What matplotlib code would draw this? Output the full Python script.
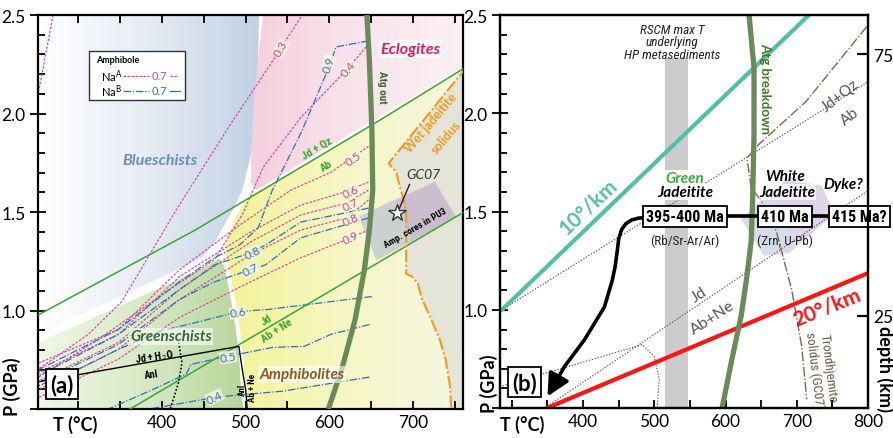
import numpy as np
import matplotlib
matplotlib.use("Agg")
import matplotlib.pyplot as plt
from matplotlib import font_manager
from matplotlib.patches import Polygon
from matplotlib.colors import LinearSegmentedColormap
from matplotlib.ticker import MultipleLocator, FuncFormatter

plt.rcParams['font.family'] = ['Lato', 'DejaVu Sans']
_names = {f.name for f in font_manager.fontManager.ttflist}
NARROW = [n for n in ['Liberation Sans Narrow', 'DejaVu Sans Condensed', 'Roboto Condensed', 'Roboto']
          if n in _names][:1] + ['DejaVu Sans']

# ---------------- panel (a): T (degC), P (GPa) ----------------
BLUE_T = [250, 516, 515, 513, 505, 496, 486, 474, 462, 450, 440, 250]
BLUE_P = [2.5, 2.5, 2.27, 1.965, 1.763, 1.611, 1.52, 1.429, 1.338, 1.278, 1.25, 0.874]
PINK_T = [524, 765, 765, 660, 566, 513, 506, 507, 510, 516, 521]
PINK_P = [2.5, 2.5, 2.247, 1.985, 1.747, 1.611, 1.652, 1.813, 2.066, 2.318, 2.5]
GREEN_T = [250, 250, 451, 468, 478, 485, 491, 495, 497, 500]
GREEN_P = [0.5, 0.833, 1.217, 1.263, 1.207, 1.056, 0.904, 0.753, 0.601, 0.5]
WB_T = [500, 497, 495, 491, 485, 478, 473, 477, 484, 493, 503]
WB_P = [0.5, 0.601, 0.753, 0.904, 1.056, 1.207, 1.308, 1.384, 1.46, 1.535, 1.576]
JDQZ_T = [249, 440, 566, 660, 765]
JDQZ_P = [0.97, 1.409, 1.727, 1.965, 2.24]
JDNE_T = [362, 765]
JDNE_P = [0.5, 1.51]
SOL_T = [765, 671, 680, 684, 689, 692, 692, 699, 706, 711, 721, 732, 739, 744, 746]
SOL_P = [2.24, 1.747, 1.702, 1.636, 1.56, 1.485, 1.187, 1.172, 1.136, 1.056, 0.965, 0.854, 0.753, 0.626, 0.5]
ATG_A_T = [645, 648, 651, 652, 648, 642, 631, 615, 599]
ATG_A_P = [2.5, 2.268, 1.914, 1.611, 1.409, 1.207, 0.955, 0.702, 0.5]
ANL_T = [249, 492, 496, 500, 502]
ANL_P = [0.636, 0.818, 0.702, 0.601, 0.5]
DOT_T = [420, 424, 420, 410]
DOT_P = [0.838, 0.737, 0.636, 0.5]
AMP_T = [636, 726, 751, 657]
AMP_P = [1.475, 1.652, 1.475, 1.258]
AMPB_T = [636, 675, 699, 657]
AMPB_P = [1.475, 1.561, 1.359, 1.258]
STAR = (681, 1.495)

# Na(A) isopleths (magenta) and Na(B) isopleths (blue)
NAA = {
    0.2: ([270, 250], [2.5, 2.05]),
    0.3: ([566, 538, 481, 417, 352, 312, 249], [2.49, 2.303, 1.939, 1.51, 1.045, 0.879, 0.692]),
    0.4: ([647, 623, 566, 521, 497, 463, 409, 324, 249], [2.354, 2.232, 1.98, 1.727, 1.495, 1.258, 1.106, 0.854, 0.652]),
    0.5: ([647, 602, 554, 493, 421, 348, 249], [1.833, 1.702, 1.611, 1.434, 1.207, 0.904, 0.727]),
    0.6: ([647, 614, 566, 506, 421, 348, 249], [1.652, 1.596, 1.535, 1.399, 1.172, 0.879, 0.677]),
    0.7: ([647, 620, 566, 506, 421, 348, 249], [1.611, 1.545, 1.485, 1.348, 1.106, 0.838, 0.636]),
    0.8: ([647, 620, 566, 506, 421, 348, 249], [1.561, 1.47, 1.409, 1.283, 1.056, 0.803, 0.591]),
    0.9: ([647, 620, 566, 506, 421, 348, 249], [1.409, 1.359, 1.268, 1.146, 0.965, 0.753, 0.551]),
}
NAB = {
    0.9: ([647, 608, 602, 566, 532, 515, 493, 463, 421, 348, 249], [2.369, 2.338, 2.258, 1.899, 1.611, 1.419, 1.333, 1.268, 1.146, 0.904, 0.692]),
    0.8: ([647, 566, 524, 506, 463, 421, 348, 249], [1.52, 1.449, 1.333, 1.293, 1.232, 1.106, 0.879, 0.662]),
    0.7: ([647, 566, 524, 506, 463, 421, 348, 249], [1.47, 1.369, 1.232, 1.207, 1.146, 1.056, 0.828, 0.626]),
    0.6: ([651, 526, 492, 445, 397, 348, 300, 249], [1.071, 1.005, 0.995, 0.944, 0.894, 0.803, 0.702, 0.611]),
    0.5: ([648, 602, 570, 533, 479, 435, 429, 385, 336], [0.929, 0.879, 0.818, 0.813, 0.768, 0.727, 0.677, 0.591, 0.5]),
    0.4: ([648, 545, 466, 385], [0.662, 0.591, 0.561, 0.5]),
}
NAA_LAB = {0.3: (542, 2.33, 60), 0.4: (623, 2.227, 50), 0.5: (629, 1.773, 35),
           0.6: (626, 1.606, 25), 0.7: (625, 1.54, 25), 0.8: (626, 1.465, 25), 0.9: (626, 1.369, 25)}
NAB_LAB = {0.9: (599, 2.253, 72), 0.8: (509, 1.293, 25), 0.7: (506, 1.207, 25),
           0.6: (491, 0.99, 10), 0.5: (479, 0.763, 10), 0.4: (463, 0.561, 25)}

# ---------------- panel (b) ----------------
RSCM_T = (515, 548)
RSCM_PTOP = 2.28
GEO10_T, GEO10_P = [286, 717], [1.0, 2.5]
GEO20_T, GEO20_P = [349, 800], [0.5, 1.187]
ATG_B_T = [633, 640, 640, 638, 636, 630, 622, 609, 598, 595]
ATG_B_P = [2.5, 2.23, 1.9, 1.55, 1.35, 1.17, 0.97, 0.75, 0.55, 0.5]
B_JDQZ_T, B_JDQZ_P = [286, 800], [1.0, 2.16]
B_JDNE_T, B_JDNE_P = [350, 800], [0.51, 1.606]
B_ANL_T = [283, 483, 500, 507, 504]
B_ANL_P = [0.609, 0.823, 0.763, 0.646, 0.5]
TRON_T = [798, 713, 647, 630, 636, 650, 671, 693, 707, 714]
TRON_P = [2.44, 2.06, 1.843, 1.773, 1.621, 1.556, 1.404, 1.101, 0.813, 0.545]
PATH_T = [490, 478, 468, 460, 454, 450, 448, 445, 441, 430, 402, 374, 350]
PATH_P = [1.47, 1.467, 1.457, 1.438, 1.408, 1.36, 1.30, 1.22, 1.15, 1.015, 0.848, 0.712, 0.56]
PURP_T = [623, 685, 734, 752, 689, 654]
PURP_P = [1.465, 1.657, 1.631, 1.49, 1.293, 1.278]
PURPB_T = [623, 660, 700, 654]
PURPB_P = [1.465, 1.6, 1.33, 1.278]
AGES = ["395-400 Ma", "410 Ma", "415 Ma?"]
AGE_T = [543, 683, 788]
AGE_P = 1.475
METHODS = ["(Rb/Sr-Ar/Ar)", "(Zrn, U-Pb)"]
DEPTH_LABELS = ["25", "75"]
DEPTH_P = [0.97, 2.30]


def grad_fill(ax, T, P, colors, z=0.5):
    poly = Polygon(np.column_stack([T, P]), closed=True, fc='none', ec='none')
    ax.add_patch(poly)
    cmap = LinearSegmentedColormap.from_list('g', colors)
    g = np.linspace(0, 1, 256)[None, :]
    im = ax.imshow(g, cmap=cmap, extent=[min(T), max(T), min(P), max(P)],
                   aspect='auto', origin='lower', zorder=z, interpolation='bilinear')
    im.set_clip_path(poly)


def style_axes(ax, xlim, top_ticks):
    ax.set_xlim(*xlim)
    ax.set_ylim(0.5, 2.5)
    ax.xaxis.set_major_locator(MultipleLocator(100))
    ax.xaxis.set_minor_locator(MultipleLocator(50))
    ax.yaxis.set_major_locator(MultipleLocator(0.5))
    ax.yaxis.set_minor_locator(MultipleLocator(0.1))
    ax.xaxis.set_major_formatter(FuncFormatter(lambda v, p: '' if v < 350 else f'{v:.0f}'))
    ax.yaxis.set_major_formatter(FuncFormatter(lambda v, p: '' if v < 0.75 else f'{v:.1f}'))
    ax.tick_params(which='both', direction='in', top=top_ticks, right=False, width=1.3, labelsize=12.5)
    ax.tick_params(axis='x', which='both', length=6)
    ax.tick_params(axis='y', which='major', direction='inout', length=11)
    ax.tick_params(axis='y', which='minor', length=5)
    for s in ax.spines.values():
        s.set_linewidth(1.6)


fig = plt.figure(figsize=(8.93, 4.39), dpi=100)
axa = fig.add_axes([0.0426, 0.066, 0.476, 0.8975])
axb = fig.add_axes([0.560, 0.068, 0.412, 0.8955])

# ======== panel (a) ========
ax = axa
grad_fill(ax, BLUE_T, BLUE_P, ['#ffffff', '#e6ecf4', '#c2d1e5'])
grad_fill(ax, PINK_T, PINK_P, ['#f5d0de', '#f9e4ec', '#fcf1f5'])
grad_fill(ax, GREEN_T, GREEN_P, ['#f1f7e8', '#d8eac6', '#b6d69a'])
yel_T = WB_T + [566, 660, 765] + SOL_T
yel_P = WB_P + [1.727, 1.965, 2.24] + SOL_P
grad_fill(ax, yel_T, yel_P, ['#f3f396', '#f6f7c6', '#f4f6e2'])
gray_T = SOL_T + [765, 765]
gray_P = SOL_P + [0.5, 2.24]
ax.add_patch(Polygon(np.column_stack([gray_T, gray_P]), closed=True, fc='#e4e4d8', ec='none', zorder=0.6))
ax.plot(WB_T, WB_P, color='white', lw=3, zorder=1)
ax.add_patch(Polygon(np.column_stack([AMP_T, AMP_P]), closed=True, fc='#b9a6c8', ec='#e8b8cc', lw=1, alpha=0.6, zorder=1.2))
ax.add_patch(Polygon(np.column_stack([AMPB_T, AMPB_P]), closed=True, fc='#c4dcd6', ec='none', alpha=0.55, zorder=1.3))

for v, (t, p) in NAA.items():
    ax.plot(t, p, color='#e8329a', lw=0.8, ls=(0, (2.2, 1.4)), zorder=2)
for v, (t, p) in NAB.items():
    ax.plot(t, p, color='#2f6dbf', lw=0.9, ls=(0, (6, 1.5, 1, 1.5)), zorder=2)
for v, (t, p, r) in NAA_LAB.items():
    ax.text(t, p, f'{v:.1f}', color='#b94c8c', fontsize=8.5, rotation=r, ha='center', va='center', zorder=5,
            bbox=dict(boxstyle='square,pad=0.05', fc='#f7f7d8', ec='none', alpha=0.8))
for v, (t, p, r) in NAB_LAB.items():
    ax.text(t, p, f'{v:.1f}', color='#3a6fb0', fontsize=8.5, rotation=r, ha='center', va='center', zorder=5,
            bbox=dict(boxstyle='square,pad=0.05', fc='#f4f6e0', ec='none', alpha=0.8))

ax.plot(JDQZ_T, JDQZ_P, color='#3aa535', lw=1.1, zorder=3)
ax.plot(JDNE_T, JDNE_P, color='#3aa535', lw=1.1, zorder=3)
ax.plot(SOL_T, SOL_P, color='#f29a1a', lw=1.5, ls=(0, (6, 1.2, 1, 1.2)), zorder=3)
ax.plot(ANL_T, ANL_P, color='black', lw=1.0, zorder=3)
ax.plot(DOT_T, DOT_P, color='black', lw=1.2, ls=(0, (1, 1.2)), zorder=3)
ax.plot(ATG_A_T, ATG_A_P, color='#6b8a5a', lw=3.8, zorder=3.5, solid_capstyle='butt')
ax.plot(*STAR, marker='*', ms=13, mfc='white', mec='#333333', mew=1, zorder=6)
ax.plot([684, 696], [1.52, 1.64], color='#222222', lw=1, zorder=5)

ax.text(697, 2.328, 'Eclogites', color='#e8185a', fontsize=11.5, fontweight='bold', style='italic',
        ha='center', va='center', zorder=5, bbox=dict(boxstyle='square,pad=0.1', fc='white', ec='none', alpha=0.7))
ax.text(398, 1.763, 'Blueschists', color='#6b8db3', fontsize=11.5, fontweight='bold', style='italic',
        ha='center', va='center', zorder=5)
ax.text(411, 0.869, 'Greenschists', color='#2f6b2f', fontsize=11, fontweight='bold', style='italic',
        ha='center', va='center', zorder=5, bbox=dict(boxstyle='square,pad=0.1', fc='white', ec='none', alpha=0.6))
ax.text(568, 0.677, 'Amphibolites', color='#8a5a2a', fontsize=11, fontweight='bold', style='italic',
        ha='center', va='center', zorder=5, bbox=dict(boxstyle='square,pad=0.1', fc='white', ec='none', alpha=0.6))
ax.text(585, 1.828, 'Jd + Qz', color='#3aa535', fontsize=8, fontweight='bold', rotation=31, ha='center', va='center', zorder=5, family=NARROW)
ax.text(597, 1.737, 'Ab', color='#3aa535', fontsize=8, fontweight='bold', rotation=31, ha='center', va='center', zorder=5, family=NARROW)
ax.text(525, 0.955, 'Jd', color='#3aa535', fontsize=8, fontweight='bold', rotation=33, ha='center', va='center', zorder=5, family=NARROW)
ax.text(537, 0.9, 'Ab + Ne', color='#3aa535', fontsize=8, fontweight='bold', rotation=33, ha='center', va='center', zorder=5, family=NARROW)
ax.text(663, 2.14, 'Atg out', color='#3d6b2a', fontsize=8, fontweight='bold', rotation=-90, ha='center', va='center', zorder=5, family=NARROW)
ax.text(391, 0.768, 'Jd + H$_2$O', fontsize=7.5, fontweight='bold', rotation=8, ha='center', va='center', zorder=5, family=NARROW)
ax.text(387, 0.677, 'Anl', fontsize=7.5, fontweight='bold', rotation=8, ha='center', va='center', zorder=5, family=NARROW)
ax.text(496, 0.6, 'Anl', fontsize=6.5, fontweight='bold', rotation=90, ha='center', va='center', zorder=5, family=NARROW)
ax.text(508, 0.61, 'Ab + Ne', fontsize=6.5, fontweight='bold', rotation=90, ha='center', va='center', zorder=5, family=NARROW)
ax.text(721, 1.955, 'Wet jadeitite', color='#f29a1a', fontsize=9, fontweight='bold', rotation=50, ha='center', va='center', zorder=5)
ax.text(740, 1.885, 'solidus', color='#f29a1a', fontsize=9, fontweight='bold', rotation=50, ha='center', va='center', zorder=5)
ax.text(713, 1.692, 'GC07', fontsize=10, style='italic', color='#333333', ha='center', va='center', zorder=5)
ax.text(703, 1.42, 'Amp. cores in PU3', fontsize=6.8, fontweight='bold', rotation=30, ha='center', va='center', zorder=5, family=NARROW)
ax.text(0.057, 0.063, '(a)', transform=ax.transAxes, fontsize=16, fontweight='bold', ha='center', va='center', zorder=7,
        bbox=dict(boxstyle='square,pad=0.2', fc='white', ec='black', lw=1.3))

# legend box
ax.add_patch(plt.Rectangle((0.12, 0.784), 0.226, 0.125, transform=ax.transAxes, fc='white', ec='#333333', lw=1, zorder=6))
ax.text(0.137, 0.888, 'Amphibole', transform=ax.transAxes, fontsize=6.5, fontweight='bold', va='center', zorder=7)
ax.text(0.147, 0.846, 'Na$^{\\rm A}$', transform=ax.transAxes, fontsize=8, va='center', zorder=7)
ax.text(0.147, 0.808, 'Na$^{\\rm B}$', transform=ax.transAxes, fontsize=8, va='center', zorder=7)
ax.plot([0.2, 0.26], [0.846, 0.846], transform=ax.transAxes, color='#e8329a', lw=0.8, ls=(0, (2.2, 1.4)), zorder=7)
ax.plot([0.31, 0.33], [0.846, 0.846], transform=ax.transAxes, color='#e8329a', lw=0.8, ls=(0, (2.2, 1.4)), zorder=7)
ax.text(0.285, 0.846, '0.7', transform=ax.transAxes, color='#b94c8c', fontsize=8, ha='center', va='center', zorder=7)
ax.plot([0.2, 0.26], [0.808, 0.808], transform=ax.transAxes, color='#2f6dbf', lw=0.9, ls=(0, (6, 1.5, 1, 1.5)), zorder=7)
ax.plot([0.31, 0.335], [0.808, 0.808], transform=ax.transAxes, color='#2f6dbf', lw=0.9, zorder=7)
ax.text(0.285, 0.808, '0.7', transform=ax.transAxes, color='#3a6fb0', fontsize=8, ha='center', va='center', zorder=7)

style_axes(ax, (252, 760), True)

# ======== panel (b) ========
ax = axb
ax.fill_between(RSCM_T, 0.5, RSCM_PTOP, color='#cccccc', lw=0, zorder=0.5)
ax.add_patch(Polygon(np.column_stack([PURP_T, PURP_P]), closed=True, fc='#d6c6e4', ec='#f0c8dc', lw=1, alpha=0.75, zorder=0.6))
ax.add_patch(Polygon(np.column_stack([PURPB_T, PURPB_P]), closed=True, fc='#d2e2f0', ec='none', alpha=0.6, zorder=0.7))
ax.plot(B_JDQZ_T, B_JDQZ_P, color='#555555', lw=0.8, ls=(0, (1.2, 1.5)), zorder=1)
ax.plot(B_JDNE_T, B_JDNE_P, color='#555555', lw=0.8, ls=(0, (1.2, 1.5)), zorder=1)
ax.plot(B_ANL_T, B_ANL_P, color='#555555', lw=0.8, ls=(0, (1.2, 1.5)), zorder=1)
ax.plot(TRON_T, TRON_P, color='#7a6a4a', lw=1.0, ls=(0, (7, 1.5, 1, 1.5)), zorder=1.5)
ax.plot(GEO10_T, GEO10_P, color='#52c0a8', lw=3, zorder=2)
ax.plot(GEO20_T, GEO20_P, color='#ff1414', lw=3, zorder=2)
ax.plot(ATG_B_T, ATG_B_P, color='#6b8a5a', lw=3.8, zorder=2.5)
ax.plot(PATH_T[:-1], PATH_P[:-1], color='black', lw=2.6, zorder=3, solid_capstyle='round', solid_joinstyle='round')
ax.annotate('', xy=(PATH_T[-1], PATH_P[-1]), xytext=(PATH_T[-2], PATH_P[-2]), zorder=3,
            arrowprops=dict(arrowstyle='-|>,head_length=0.9,head_width=0.45', mutation_scale=15,
                            color='black', lw=2.6, shrinkA=0, shrinkB=0))
ax.plot([AGE_T[0], AGE_T[-1]], [AGE_P, AGE_P], color='black', lw=2.6, zorder=3, clip_on=False)
for lab, t in zip(AGES, AGE_T):
    ax.text(t, AGE_P, lab, fontsize=11.5, fontweight='bold', ha='center', va='center', zorder=6, family=NARROW,
            clip_on=False, bbox=dict(boxstyle='square,pad=0.2', fc='white', ec='black', lw=1.3))
for lab, t in zip(METHODS, AGE_T[:2]):
    ax.text(t, 1.355, lab, fontsize=9.5, ha='center', va='center', zorder=6, family=NARROW, color='#222222')

ax.text(525, 2.365, 'RSCM max T\nunderlying\nHP metasediments', fontsize=9.5, style='italic', ha='center', va='center',
        linespacing=0.95, zorder=5, family=NARROW, color='#222222')
ax.text(543, 1.672, 'Green', fontsize=11, style='italic', fontweight='bold', color='#3aaa3a', ha='center', va='center', zorder=5,
        bbox=dict(boxstyle='square,pad=0.05', fc='white', ec='none'))
ax.text(543, 1.6, 'Jadeitite', fontsize=11, style='italic', fontweight='bold', ha='center', va='center', zorder=5,
        bbox=dict(boxstyle='square,pad=0.05', fc='white', ec='none'))
ax.text(683, 1.68, 'White', fontsize=11, style='italic', fontweight='bold', ha='center', va='center', zorder=5)
ax.text(687, 1.6, 'Jadeitite', fontsize=11, style='italic', fontweight='bold', ha='center', va='center', zorder=5,
        bbox=dict(boxstyle='square,pad=0.05', fc='white', ec='none', alpha=0.7))
ax.text(765, 1.64, 'Dyke?', fontsize=11, style='italic', fontweight='bold', ha='center', va='center', zorder=5)
ax.text(407, 1.53, '10°/km', fontsize=15, fontweight='bold', color='#52c0a8', rotation=43, ha='center', va='center', zorder=5)
ax.text(742, 1.015, '20°/km', fontsize=15, fontweight='bold', color='#ff1414', rotation=22, ha='center', va='center', zorder=5)
ax.text(656, 2.13, 'Atg breakdown', fontsize=9.5, fontweight='bold', color='#3d7a2a', rotation=-90, ha='center', va='center', zorder=5)
ax.text(762, 2.09, 'Jd+Qz', fontsize=11, color='#555555', rotation=38, ha='center', va='center', zorder=5)
ax.text(774, 1.985, 'Ab', fontsize=11, color='#555555', rotation=38, ha='center', va='center', zorder=5)
ax.text(563, 1.08, 'Jd', fontsize=11.5, color='#555555', rotation=33, ha='center', va='center', zorder=5)
ax.text(582, 0.965, 'Ab+Ne', fontsize=11.5, color='#555555', rotation=33, ha='center', va='center', zorder=5)
ax.text(734, 0.70, 'Trondhjemite\nsolidus (GC07)', fontsize=9.5, color='#6b5f45', rotation=-83, ha='center', va='center',
        zorder=5, family=NARROW, linespacing=1.1)
ax.text(0.066, 0.066, '(b)', transform=ax.transAxes, fontsize=16, fontweight='bold', ha='center', va='center', zorder=7,
        bbox=dict(boxstyle='square,pad=0.2', fc='white', ec='black', lw=1.3))

style_axes(ax, (283.5, 800), False)
ax2 = ax.twinx()
ax2.set_ylim(0.5, 2.5)
ax2.set_yticks(DEPTH_P)
ax2.set_yticklabels(DEPTH_LABELS)
ax2.tick_params(direction='in', length=8, width=1.6, labelsize=12.5)
for s in ax2.spines.values():
    s.set_linewidth(1.6)

# axis titles
fig.text(0.013, 0.118, 'P (GPa)', rotation=90, fontsize=13, fontweight='bold', ha='center', va='center')
fig.text(0.084, 0.032, 'T (°C)', fontsize=13, fontweight='bold', ha='center', va='center')
fig.text(0.548, 0.125, 'P (GPa)', rotation=90, fontsize=13, fontweight='bold', ha='center', va='center')
fig.text(0.585, 0.032, 'T (°C)', fontsize=13, fontweight='bold', ha='center', va='center')
fig.text(0.991, 0.16, 'depth (km)', rotation=-90, fontsize=13, fontweight='bold', ha='center', va='center')

fig.savefig('out.png', dpi=100)
